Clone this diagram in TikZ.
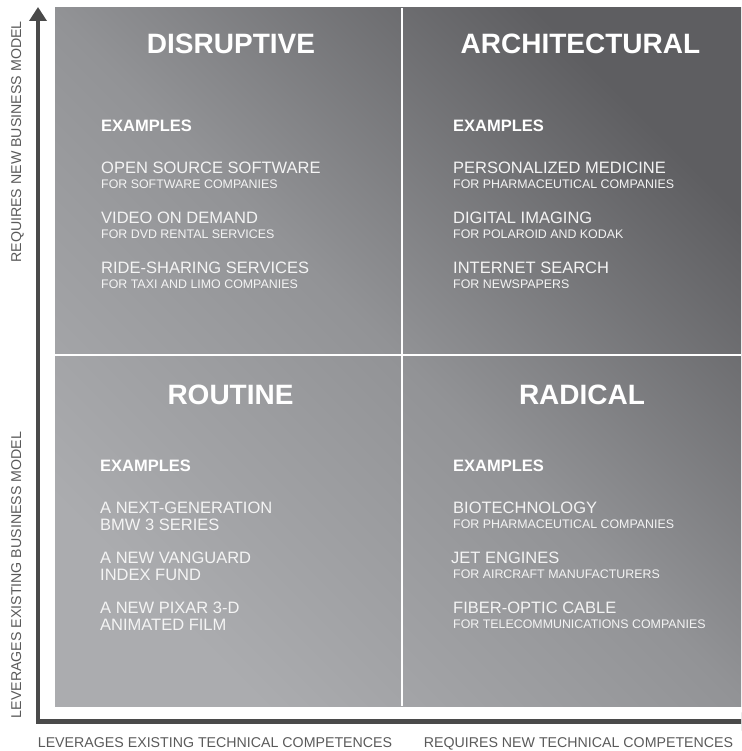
\documentclass[tikz,border=0pt]{standalone}
\usepackage{fontspec}
\setmainfont{Liberation Sans}
\usetikzlibrary{arrows.meta}
\definecolor{axisgray}{HTML}{4A4A4A}
\definecolor{labelgray}{HTML}{5A5A5A}
\definecolor{bgdark}{HTML}{5E5E61}
\definecolor{bgmid}{HTML}{929396}
\definecolor{bglight}{HTML}{ABACAF}
\definecolor{txt}{HTML}{F4F4F4}
\tikzset{
  titletext/.style={text=white, font=\bfseries\fontsize{28}{30}\selectfont, anchor=base, inner sep=0pt},
  exhead/.style={text=white, font=\bfseries\fontsize{16.5}{18}\selectfont, anchor=base west, inner sep=0pt},
  itemtext/.style={text=txt, font=\fontsize{16.5}{18}\selectfont, anchor=base west, inner sep=0pt},
  subtext/.style={text=txt, font=\fontsize{12.4}{14}\selectfont, anchor=base west, inner sep=0pt},
  axislabel/.style={text=labelgray, font=\fontsize{14.2}{16}\selectfont, anchor=base, inner sep=0pt},
  axisline/.style={draw=axisgray, line width=4.5pt, line join=miter,
    {Triangle[length=14pt,width=17pt]}-{Triangle[length=14pt,width=17pt]}},
  divider/.style={draw=white, line width=2pt},
}
\begin{document}
\begin{tikzpicture}[x=1pt,y=-1pt]
\useasboundingbox (0,0) rectangle (741,751);
\clip (0,0) rectangle (741,751);
% background square
\shade[top color=bgdark, bottom color=bglight, middle color=bgmid, shading angle=-45]
  (55,8) rectangle (741,706);
% dividers
\coordinate (vtop) at (402.3,8);
\coordinate (vbot) at (402.3,706);
\coordinate (hleft) at (55,355);
\coordinate (hright) at (741,355);
\draw[divider] (vtop) -- (vbot);
\draw[divider] (hleft) -- (hright);
% axes
\coordinate (ytip) at (38,7);
\coordinate (origin) at (38,721.5);
\coordinate (xtip) at (755,721.5);
\draw[axisline] (ytip) -- (origin) -- (xtip);
% axis labels
\node[axislabel] (xl1) at (215,747) {LEVERAGES EXISTING TECHNICAL COMPETENCES};
\node[axislabel] (xl2) at (578.5,747) {REQUIRES NEW TECHNICAL COMPETENCES};
\node[axislabel, rotate=90] (yl1) at (21,142) {REQUIRES NEW BUSINESS MODEL};
\node[axislabel, rotate=90] (yl2) at (21,575) {LEVERAGES EXISTING BUSINESS MODEL};
% titles
\node[titletext] (t1) at (231,54) {DISRUPTIVE};
\node[titletext] (t2) at (580.5,54) {ARCHITECTURAL};
\node[titletext] (t3) at (230.5,404) {ROUTINE};
\node[titletext] (t4) at (582,404) {RADICAL};
% top-left
\node[exhead] (e1) at (101,131.7) {EXAMPLES};
\node[itemtext] (a1) at (101,173.3) {OPEN SOURCE SOFTWARE};
\node[subtext] (a1s) at (101,188.3) {FOR SOFTWARE COMPANIES};
\node[itemtext] (a2) at (101,223.3) {VIDEO ON DEMAND};
\node[subtext] (a2s) at (101,238.3) {FOR DVD RENTAL SERVICES};
\node[itemtext] (a3) at (101,273.3) {RIDE-SHARING SERVICES};
\node[subtext] (a3s) at (101,288.3) {FOR TAXI AND LIMO COMPANIES};
% top-right
\node[exhead] (e2) at (453,131.7) {EXAMPLES};
\node[itemtext] (b1) at (453,173.3) {PERSONALIZED MEDICINE};
\node[subtext] (b1s) at (453,188.3) {FOR PHARMACEUTICAL COMPANIES};
\node[itemtext] (b2) at (453,223.3) {DIGITAL IMAGING};
\node[subtext] (b2s) at (453,238.3) {FOR POLAROID AND KODAK};
\node[itemtext] (b3) at (453,273.3) {INTERNET SEARCH};
\node[subtext] (b3s) at (453,288.3) {FOR NEWSPAPERS};
% bottom-left
\node[exhead] (e3) at (100,471.7) {EXAMPLES};
\node[itemtext] (c1) at (100,513.3) {A NEXT-GENERATION};
\node[itemtext] (c1b) at (100,530.7) {BMW 3 SERIES};
\node[itemtext] (c2) at (100,563.3) {A NEW VANGUARD};
\node[itemtext] (c2b) at (100,580.7) {INDEX FUND};
\node[itemtext] (c3) at (100,613.3) {A NEW PIXAR 3-D};
\node[itemtext] (c3b) at (100,630.7) {ANIMATED FILM};
% bottom-right
\node[exhead] (e4) at (453,471.7) {EXAMPLES};
\node[itemtext] (d1) at (453,513.3) {BIOTECHNOLOGY};
\node[subtext] (d1s) at (453,528.3) {FOR PHARMACEUTICAL COMPANIES};
\node[itemtext] (d2) at (451,563.3) {JET ENGINES};
\node[subtext] (d2s) at (453,578.3) {FOR AIRCRAFT MANUFACTURERS};
\node[itemtext] (d3) at (453,613.3) {FIBER-OPTIC CABLE};
\node[subtext] (d3s) at (453,628.3) {FOR TELECOMMUNICATIONS COMPANIES};
\end{tikzpicture}
\end{document}
